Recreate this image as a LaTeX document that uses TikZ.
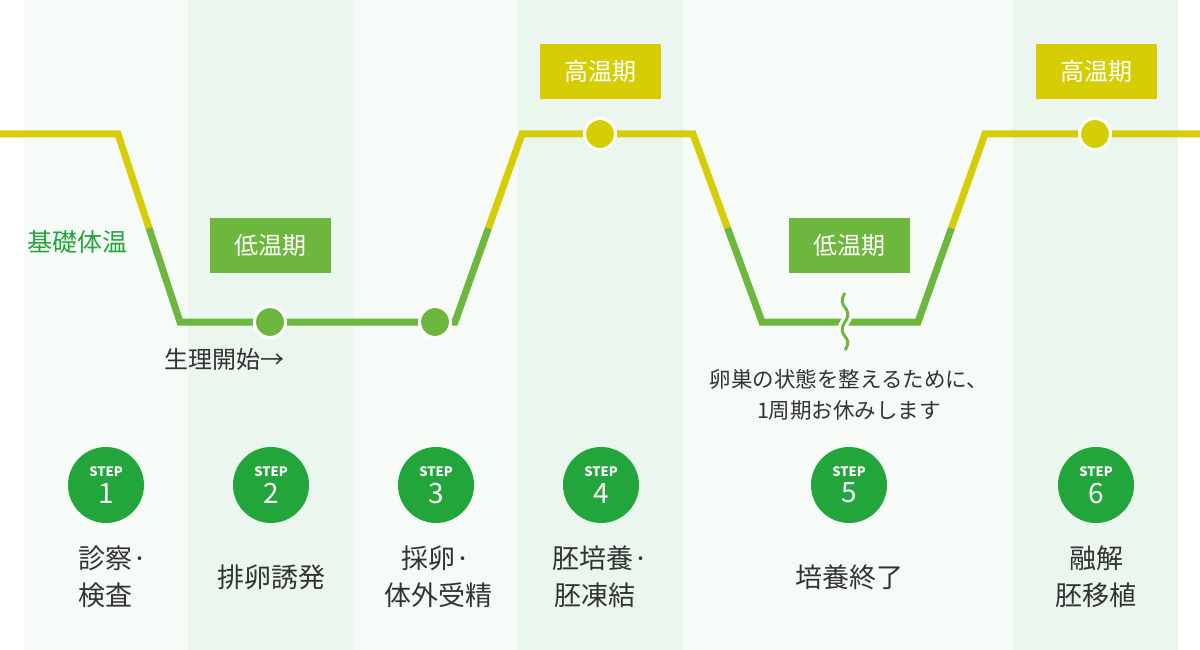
\documentclass[tikz,border=0pt]{standalone}
\usepackage{fontspec}
\setmainfont{Noto Sans CJK JP}
\definecolor{lt}{HTML}{F6FBF7}
\definecolor{dk}{HTML}{EAF6EE}
\definecolor{yl}{HTML}{D6CD05}
\definecolor{gr}{HTML}{6DB73F}
\definecolor{sg}{HTML}{22A53A}
\definecolor{tx}{HTML}{333333}
\tikzset{x=1pt,y=-1pt,
 lbl/.style={minimum width=121pt,minimum height=55pt,inner sep=0pt,text=white,font=\fontsize{24}{24}\selectfont},
 dot/.style={circle,draw=white,line width=3pt,minimum size=31pt,inner sep=0pt},
 stepc/.style={circle,fill=sg,minimum size=76pt,inner sep=0pt,text=white,align=center},
 captxt/.style={text=tx,align=center,font=\fontsize{27}{37}\selectfont},
 ln/.style={line width=7pt,line join=miter}}
\begin{document}
\begin{tikzpicture}
\useasboundingbox (0,0) rectangle (1200,650);
\fill[white] (0,0) rectangle (1200,650);
\fill[lt] (24,0) rectangle (188,650);
\fill[dk] (188,0) rectangle (353,650);
\fill[lt] (353,0) rectangle (518,650);
\fill[dk] (518,0) rectangle (683,650);
\fill[lt] (683,0) rectangle (1013,650);
\fill[dk] (1013,0) rectangle (1178,650);
% line
\coordinate (p0) at (0,134); \coordinate (p1) at (118,134); \coordinate (m1) at (149,228);
\coordinate (p2) at (180,322); \coordinate (p3) at (455,322); \coordinate (m2) at (488.5,228);
\coordinate (p4) at (522,134); \coordinate (p5) at (693,134); \coordinate (m3) at (727.5,228);
\coordinate (p6) at (762,322); \coordinate (p7) at (918,322); \coordinate (m4) at (951.5,228);
\coordinate (p8) at (985,134); \coordinate (p9) at (1200,134);
\draw[ln,yl] (p0)--(p1)--(m1);
\draw[ln,gr] (m1)--(p2)--(p3)--(m2);
\draw[ln,yl] (m2)--(p4)--(p5)--(m3);
\draw[ln,gr] (m3)--(p6)--(p7)--(m4);
\draw[ln,yl] (m4)--(p8)--(p9);
% wave break
\coordinate (w0) at (845,293); \coordinate (w1) at (845,350);
\draw[white,line width=9pt] (w0) .. controls (835,308) and (855,307) .. (845,322) .. controls (835,337) and (855,336) .. (w1);
\draw[gr,line width=3pt] (w0) .. controls (835,308) and (855,307) .. (845,322) .. controls (835,337) and (855,336) .. (w1);
% dots
\node[dot,fill=gr] (d1) at (270,322) {};
\node[dot,fill=gr] (d2) at (435,322) {};
\node[dot,fill=yl] (d3) at (600,134) {};
\node[dot,fill=yl] (d4) at (1095,134) {};
% labels
\node[lbl,fill=yl] (h1) at (600,71.5) {高温期};
\node[lbl,fill=yl] (h2) at (1096,71.5) {高温期};
\node[lbl,fill=gr] (l1) at (270,245.5) {低温期};
\node[lbl,fill=gr] (l2) at (849,245.5) {低温期};
\node[text=sg,font=\fontsize{25}{25}\selectfont,anchor=west,inner sep=0pt] (kt) at (27,242) {基礎体温};
\node[text=tx,font=\fontsize{24}{24}\selectfont,anchor=west,inner sep=0pt] (st) at (164,359) {生理開始→};
\node[text=tx,align=center,font=\fontsize{21.5}{31}\selectfont] (rest) at (849,395) {卵巣の状態を整えるために、\\1周期お休みします};
% steps
\foreach \i/\x in {1/106,2/271,3/436,4/601,5/849,6/1096}{
 \node[stepc] (s\i) at (\x,485) {\fontsize{13}{13}\selectfont\bfseries STEP\\[5pt]\fontsize{28}{28}\selectfont \i};
}
\node[captxt,align=left] (c1) at (113,577) {診察·\\検査};
\node[captxt] (c2) at (271,577) {排卵誘発};
\node[captxt] (c3) at (438,577) {\hspace*{-4pt}採卵·\\体外受精};
\node[captxt] (c4) at (601,577) {胚培養·\\\hspace*{-13pt}胚凍結};
\node[captxt] (c5) at (849,577) {培養終了};
\node[captxt] (c6) at (1096,577) {融解\\胚移植};
\end{tikzpicture}
\end{document}
